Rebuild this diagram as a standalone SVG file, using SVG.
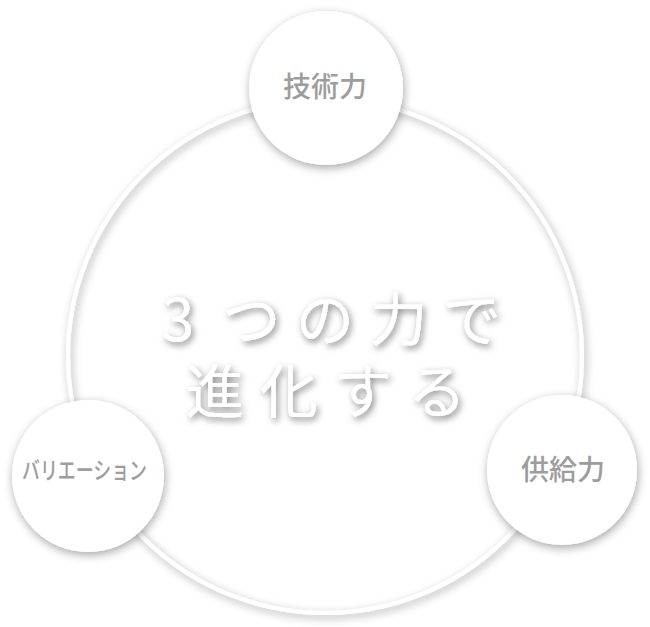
<svg xmlns="http://www.w3.org/2000/svg" width="650" height="627" viewBox="0 0 650 627">
  <defs>
    <filter id="ringShadow" x="-20%" y="-20%" width="140%" height="140%">
      <feDropShadow dx="2" dy="3" stdDeviation="4" flood-color="#000" flood-opacity="0.35"/>
    </filter>
    <filter id="nodeShadow" x="-30%" y="-30%" width="160%" height="160%">
      <feDropShadow dx="1" dy="3" stdDeviation="5" flood-color="#000" flood-opacity="0.35"/>
    </filter>
    <filter id="textShadow" x="-20%" y="-30%" width="140%" height="160%">
      <feDropShadow dx="2" dy="3" stdDeviation="3.5" flood-color="#000" flood-opacity="0.5"/>
    </filter>
  </defs>
  <style>
    .node { fill: #ffffff; filter: url(#nodeShadow); }
    .label { font-family: "Noto Sans CJK JP", "Noto Sans", sans-serif; fill: #9d9d9d; font-weight: 500; text-anchor: middle; }
    .title { font-family: "Noto Sans CJK JP", "Liberation Serif", serif; fill: #ffffff; font-weight: 400; font-size: 58px; text-anchor: middle; filter: url(#textShadow); }
  </style>
  <rect width="650" height="627" fill="#ffffff"/>
  <g id="connectors">
    <circle cx="325" cy="356" r="257" fill="none" stroke="#ffffff" stroke-width="4" filter="url(#ringShadow)"/>
  </g>
  <g id="title">
    <text class="title"><tspan y="341" x="178 251.5 325 398.5 472">3つの力で</tspan><tspan y="413" x="215 289 363 437">進化する</tspan></text>
  </g>
  <g id="node-gijutsu">
    <circle class="node" cx="326" cy="88" r="77"/>
    <text class="label" x="325" y="97" font-size="28">技術力</text>
  </g>
  <g id="node-variation">
    <circle class="node" cx="88" cy="476" r="76"/>
    <text class="label" x="84.5" y="479" font-size="24" textLength="125" lengthAdjust="spacingAndGlyphs">バリエーション</text>
  </g>
  <g id="node-kyokyu">
    <circle class="node" cx="562" cy="470" r="75"/>
    <text class="label" x="563" y="480" font-size="28">供給力</text>
  </g>
</svg>
